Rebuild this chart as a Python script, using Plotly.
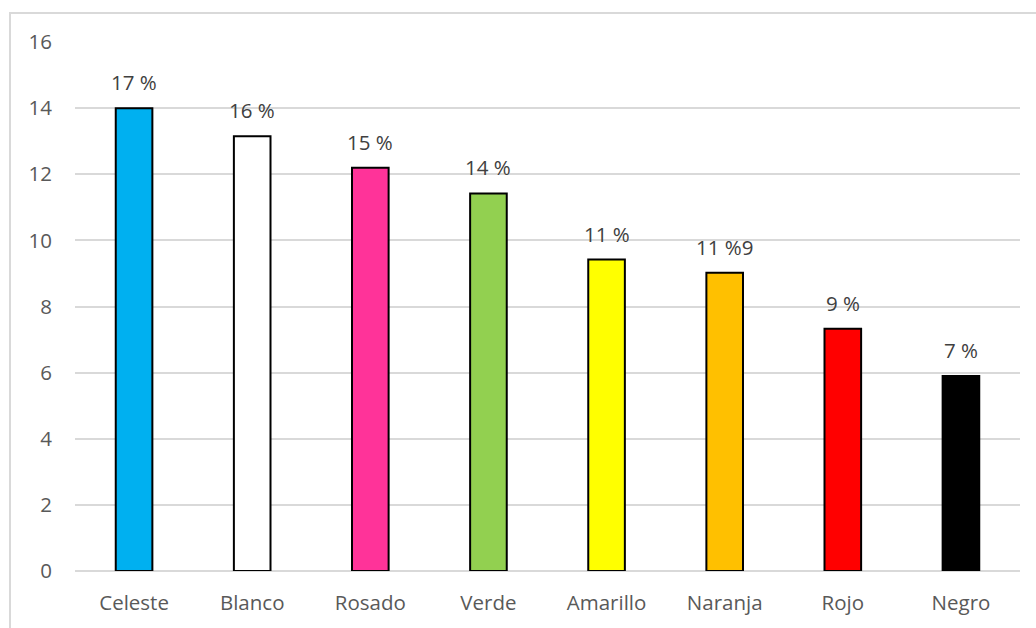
import plotly.graph_objects as go

# Colour preference counts and the percentage labels shown above each bar
categories = ["Celeste", "Blanco", "Rosado", "Verde", "Amarillo", "Naranja", "Rojo", "Negro"]
values = [14.0, 13.15, 12.2, 11.42, 9.42, 9.02, 7.33, 5.9]
labels = ["17 %", "16 %", "15 %", "14 %", "11 %", "11 %9", "9 %", "7 %"]
bar_colors = ["#00B0F0", "#FFFFFF", "#FF3399", "#92D050", "#FFFF00", "#FFC000", "#FF0000", "#000000"]
y_ticks = [0, 2, 4, 6, 8, 10, 12, 14, 16]

font_family = "Open Sans, Noto Sans, sans-serif"
font_size = 20.5

fig = go.Figure(
    go.Bar(
        x=categories,
        y=values,
        width=0.31,
        marker=dict(color=bar_colors, line=dict(color="#000000", width=2)),
        hoverinfo="skip",
    )
)

# Percentage labels above the bars
for cat, val, lab in zip(categories, values, labels):
    fig.add_annotation(
        x=cat, y=val, text=lab, showarrow=False,
        xanchor="center", yanchor="middle", yshift=26,
        font=dict(family=font_family, size=font_size, color="#404040"),
    )

# Light frame around the chart area
fig.add_shape(
    type="rect", xref="paper", yref="paper",
    x0=-0.0688, y0=-0.3, x1=1.2, y1=1.0546,
    line=dict(color="#D9D9D9", width=2), fillcolor="rgba(0,0,0,0)", layer="below",
)

fig.update_layout(
    width=1036, height=628,
    margin=dict(l=75, r=16, t=42, b=52),
    paper_bgcolor="#FFFFFF", plot_bgcolor="#FFFFFF",
    showlegend=False,
    font=dict(family=font_family, size=font_size, color="#595959"),
    bargap=0.69,
)
fig.update_xaxes(
    showgrid=False, showline=False, zeroline=False, ticks="",
    ticklabelstandoff=17,
    tickfont=dict(family=font_family, size=font_size, color="#595959"),
)
fig.update_yaxes(
    range=[0, 16], tickvals=y_ticks, showgrid=True, gridcolor="#D9D9D9", gridwidth=2,
    zeroline=True, zerolinecolor="#D9D9D9", zerolinewidth=2,
    showline=False, ticks="", ticklabelstandoff=22,
    tickfont=dict(family=font_family, size=font_size, color="#595959"),
)

fig.write_html("out.html")
